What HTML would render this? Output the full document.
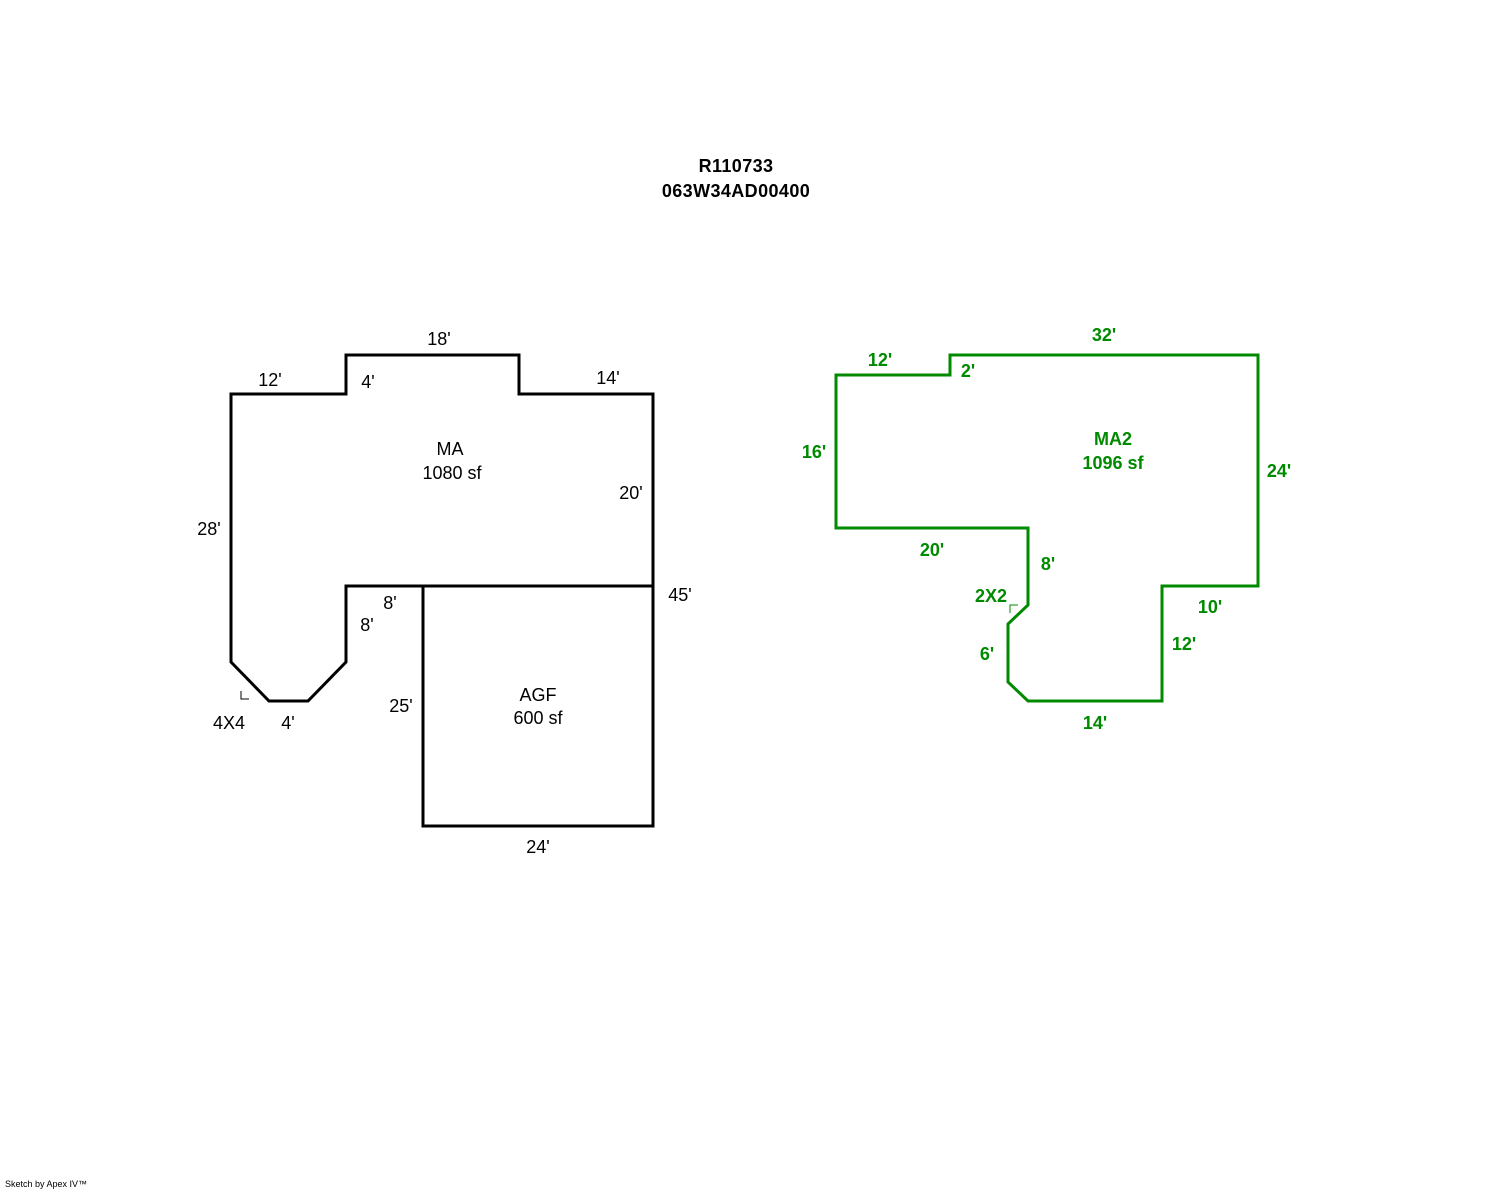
<!DOCTYPE html>
<html><head><meta charset="utf-8"><style>
html,body{margin:0;padding:0;background:#fff;}
svg{display:block;}
text{font-family:"Liberation Sans",Arial,sans-serif;font-size:18px;}
.g{fill:#008a00;font-weight:bold;}
.t{letter-spacing:0.4px;}
</style></head><body>
<svg width="1488" height="1190" viewBox="0 0 1488 1190" xmlns="http://www.w3.org/2000/svg">
<text class="t" x="736" y="172" text-anchor="middle" font-weight="bold">R110733</text>
<text class="t" x="736" y="197" text-anchor="middle" font-weight="bold">063W34AD00400</text>

<g fill="none" stroke="#000" stroke-width="3" stroke-linejoin="miter">
<polygon points="231,394 346,394 346,355 519,355 519,394 653,394 653,826 423,826 423,586 346,586 346,662 308,701 269,701 231,662"/>
<line x1="346" y1="586" x2="653" y2="586"/>
</g>
<g fill="none" stroke="#000" stroke-width="1">
<polyline points="241,691 241,699 249,699"/>
</g>
<g text-anchor="middle">
<text x="439" y="345">18'</text>
<text x="270" y="386">12'</text>
<text x="368" y="388">4'</text>
<text x="608" y="384">14'</text>
<text x="450" y="455">MA</text>
<text x="452" y="479">1080 sf</text>
<text x="631" y="499">20'</text>
<text x="209" y="535">28'</text>
<text x="680" y="601">45'</text>
<text x="390" y="609">8'</text>
<text x="367" y="631">8'</text>
<text x="538" y="701">AGF</text>
<text x="538" y="724">600 sf</text>
<text x="401" y="712">25'</text>
<text x="229" y="729">4X4</text>
<text x="288" y="729">4'</text>
<text x="538" y="853">24'</text>
</g>

<g fill="none" stroke="#008a00" stroke-width="3">
<polygon points="836,375 950,375 950,355 1258,355 1258,586 1162,586 1162,701 1028,701 1008,682 1008,624 1028,605 1028,528 836,528"/>
</g>
<g fill="none" stroke="#008a00" stroke-width="1">
<polyline points="1010,613 1010,605 1018,605"/>
</g>
<g text-anchor="middle" class="g">
<text class="g" x="1104" y="341">32'</text>
<text class="g" x="880" y="366">12'</text>
<text class="g" x="968" y="377">2'</text>
<text class="g" x="1113" y="445">MA2</text>
<text class="g" x="1113" y="469">1096 sf</text>
<text class="g" x="814" y="458">16'</text>
<text class="g" x="1279" y="477">24'</text>
<text class="g" x="932" y="556">20'</text>
<text class="g" x="1048" y="570">8'</text>
<text class="g" x="991" y="602">2X2</text>
<text class="g" x="1210" y="613">10'</text>
<text class="g" x="1184" y="650">12'</text>
<text class="g" x="987" y="660">6'</text>
<text class="g" x="1095" y="729">14'</text>
</g>

<text x="5" y="1187" style="font-size:9px">Sketch by Apex IV™</text>
</svg>
</body></html>
